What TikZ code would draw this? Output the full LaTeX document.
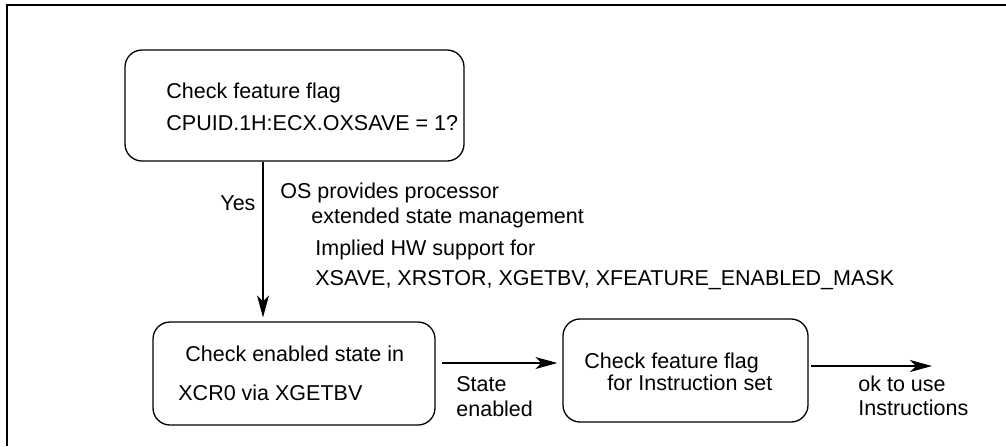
\documentclass[tikz,border=0pt]{standalone}
\usepackage{fontspec}
\setmainfont{Liberation Sans}
\usetikzlibrary{calc,arrows.meta}

\begin{document}
\begin{tikzpicture}[
    x=0.5pt, y=-0.5pt,
    frame line/.style={line width=1.1pt},
    box/.style={draw, line width=0.65pt, rounded corners=8.5pt, inner sep=0pt},
    pile/.style={line width=0.55pt, -{Stealth[length=11pt,width=6pt,inset=3pt]}},
    txt/.style={anchor=base west, inner sep=0pt, font=\fontsize{10.75}{13}\selectfont},
    every node/.style={color=black}
    ]
    \useasboundingbox (0,0) rectangle (1006,446);
    % Frame
    \draw[frame line] (7,446) -- (7,5.3) -- (1006,5.3);
    % Boxes
    \node[box, minimum width=169.5pt, minimum height=55.5pt] (flag) at (294.5,105.5) {};
    \node[box, minimum width=141pt, minimum height=51.5pt] (xcr) at (294,373.5) {};
    \node[box, minimum width=122.5pt, minimum height=51.5pt] (instr) at (685.5,370.5) {};
    % Box texts
    \node[txt] (flag1) at (166,98) {Check feature flag};
    \node[txt] (flag2) at (166,130) {CPUID.1H:ECX.OXSAVE = 1?};
    \node[txt] (xcr1) at (185,361.5) {Check enabled state in};
    \node[txt] (xcr2) at (178,400.5) {XCR0 via XGETBV};
    \node[txt] (instr1) at (584,368) {Check feature flag};
    \node[txt] (instr2) at (607,390.5) {for Instruction set};
    % Notes along the arrows
    \node[txt] (yes) at (220,210) {Yes};
    \node[txt] (os1) at (280,198) {OS provides processor};
    \node[txt] (os2) at (311,223) {extended state management};
    \node[txt] (hw1) at (315,255) {Implied HW support for};
    \node[txt] (hw2) at (315,285) {XSAVE, XRSTOR, XGETBV, XFEATURE\_ENABLED\_MASK};
    \node[txt] (st1) at (456,391.5) {State};
    \node[txt] (st2) at (456,416.5) {enabled};
    \node[txt] (ok1) at (858,391.5) {ok to use};
    \node[txt] (ok2) at (858,415.5) {Instructions};
    % Arrows
    \draw[pile] ($(flag.south)+(-31.5,0)$) -- ($(xcr.north)+(-31,-4)$);
    \draw[pile] ($(xcr.east)+(6,-10.5)$) -- ($(instr.west)+(-5,-7.5)$);
    \coordinate (use) at (932,366);
    \draw[pile] ($(instr.east)+(2,-4.5)$) -- (use);
\end{tikzpicture}
\end{document}
